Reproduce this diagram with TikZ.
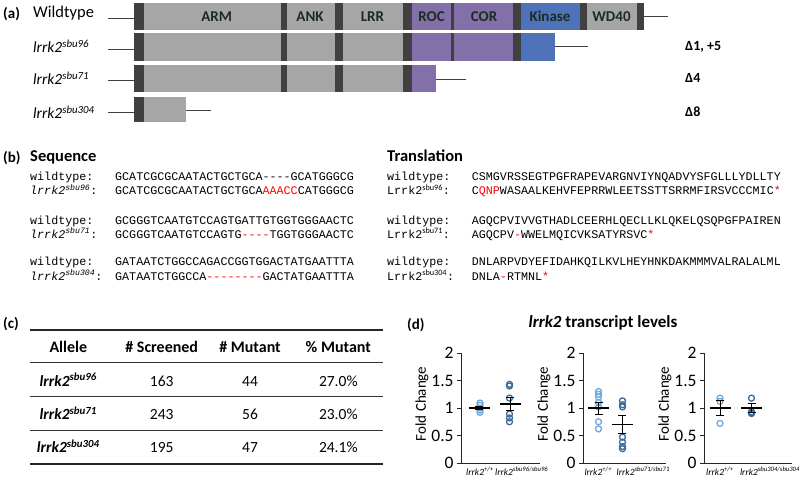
\documentclass[tikz,border=0pt]{standalone}
\usepackage{fontspec}
\setmainfont{Carlito}
\setsansfont{Carlito}
\setmonofont{Liberation Mono}
\usepackage{tikz}
\usetikzlibrary{positioning}

\definecolor{domgray}{HTML}{A6A6A6}
\definecolor{domdark}{HTML}{404040}
\definecolor{dompurple}{HTML}{8470A8}
\definecolor{domblue}{HTML}{4F72B8}
\definecolor{domtext}{HTML}{1A2D22}
\definecolor{lblue}{HTML}{6FA8DC}
\definecolor{dblue}{HTML}{3D6A99}

\newcommand{\fs}[1]{\fontsize{#1}{#1}\selectfont}
% mean line with sem bar: x, mean, low, high
\newcommand{\meanbar}[4]{%
  \draw[errbar] (#1,#3) -- (#1,#4) (#1-4,#3) -- (#1+4,#3) (#1-4,#4) -- (#1+4,#4);
  \draw[meanline] (#1-10.5,#2) -- (#1+10.5,#2);}

\begin{document}
\begin{tikzpicture}[x=1pt, y=-1pt,
   panel/.style={font=\fs{15}\bfseries, anchor=base west, inner sep=0},
   rowlbl/.style={font=\fs{15.5}, anchor=base west, inner sep=0},
   domlbl/.style={font=\fs{15}\bfseries, text=domtext, anchor=base, inner sep=0},
   dellbl/.style={font=\fs{14}\bfseries, anchor=base west, inner sep=0},
   stub/.style={draw=black!75, line width=1pt},
   seq/.style={font=\ttfamily\fs{11.7}, anchor=base west, inner sep=0},
   head/.style={font=\fs{16}\bfseries, anchor=base, inner sep=0},
   cell/.style={font=\fs{15.5}, anchor=base, inner sep=0},
   rulethick/.style={draw=black!85, line width=2pt},
   rulethin/.style={draw=black!80, line width=1.1pt},
   axisline/.style={draw=black!85, line width=0.9pt},
   ticklbl/.style={font=\fs{17.5}, inner sep=0},
   fclbl/.style={font=\fs{15}, rotate=90, inner sep=0},
   catlbl/.style={font=\fs{9.5}\itshape, anchor=base, inner sep=0},
   lcirc/.style={draw=lblue, line width=1.3pt},
   dcirc/.style={draw=dblue, line width=1.3pt},
   errbar/.style={draw=black, line width=0.9pt},
   meanline/.style={draw=black, line width=1.8pt}]
\useasboundingbox (0,0) rectangle (800,477);

% ---------- (a) domains
\node[panel] (pa) at (3,18) {(a)};
\node[rowlbl, font=\fs{16.5}] (rwt) at (33,17.5) {Wildtype};
\node[rowlbl] (r96) at (33,52.5) {\itshape lrrk2\textsuperscript{sbu96}};
\node[rowlbl] (r71) at (33,84.5) {\itshape lrrk2\textsuperscript{sbu71}};
\node[rowlbl] (r304) at (33,118.5) {\itshape lrrk2\textsuperscript{sbu304}};

% wildtype
\fill[domgray] (134,3) rectangle (644,30);
\fill[dompurple] (403,3) rectangle (513,30);
\fill[domblue] (513,3) rectangle (580,30);
\foreach \a/\b in {134/144, 281/287, 335/343, 403/412, 451/454, 513/521, 580/587, 637/644}
  \fill[domdark] (\a,3) rectangle (\b,30);
\draw[stub] (108,18.5) -- (134,18.5) (644,16) -- (668,16);
\foreach \x/\t/\nm in {216.7/ARM/arm, 310/ANK/ank, 372.5/LRR/lrr, 431.5/ROC/roc,
                       484/COR/cor, 550/Kinase/kin, 611.5/WD40/wd}
  \node[domlbl] (\nm) at (\x,21.5) {\t};

% sbu96
\fill[domgray] (134,32.5) rectangle (555,61);
\fill[dompurple] (403,32.5) rectangle (513,61);
\fill[domblue] (513,32.5) rectangle (555,61);
\foreach \a/\b in {134/144, 281/287, 335/343, 403/412, 451/454, 513/521}
  \fill[domdark] (\a,32.5) rectangle (\b,61);
\draw[stub] (108,49.5) -- (134,49.5) (555,46.7) -- (588,46.7);

% sbu71
\fill[domgray] (134,65) rectangle (436,91.5);
\fill[dompurple] (403,65) rectangle (436,91.5);
\foreach \a/\b in {134/144, 281/287, 335/343, 403/412}
  \fill[domdark] (\a,65) rectangle (\b,91.5);
\draw[stub] (108,80.5) -- (134,80.5) (436,79) -- (466,79);

% sbu304
\fill[domgray] (134,96.5) rectangle (186,121.5);
\fill[domdark] (134,96.5) rectangle (144,121.5);
\draw[stub] (108,112) -- (134,112) (186,110) -- (211,110);

\node[dellbl] (d96) at (685,50) {Δ1, +5};
\node[dellbl] (d71) at (685,82) {Δ4};
\node[dellbl] (d304) at (685,116) {Δ8};

% ---------- (b) sequences
\node[panel] (pb) at (3,162) {(b)};
\node[font=\fs{16.5}\bfseries, anchor=base west, inner sep=0] (hseq) at (30,161.7) {Sequence};
\node[font=\fs{16.5}\bfseries, anchor=base west, inner sep=0] (htr) at (387,161.7) {Translation};

\node[seq] (nwt1) at (30,180.6) {wildtype:};
\node[seq] (nmu1) at (30,194.6) {\textit{lrrk2}\textsuperscript{\textit{sbu96}}:};
\node[seq] (swt1) at (115,180.6) {GCATCGCGCAATACTGCTGCA----GCATGGGCG};
\node[seq] (smu1) at (115,194.6) {GCATCGCGCAATACTGCTGCA\textcolor{red}{AAACC}CATGGGCG};

\node[seq] (nwt2) at (30,224) {wildtype:};
\node[seq] (nmu2) at (30,238) {\textit{lrrk2}\textsuperscript{\textit{sbu71}}:};
\node[seq] (swt2) at (115,224) {GCGGGTCAATGTCCAGTGATTGTGGTGGGAACTC};
\node[seq] (smu2) at (115,238) {GCGGGTCAATGTCCAGTG\textcolor{red}{----}TGGTGGGAACTC};

\node[seq] (nwt3) at (30,265.6) {wildtype:};
\node[seq] (nmu3) at (30,280) {\textit{lrrk2}\textsuperscript{\textit{sbu304}}:};
\node[seq] (swt3) at (115,265.6) {GATAATCTGGCCAGACCGGTGGACTATGAATTTA};
\node[seq] (smu3) at (115,280) {GATAATCTGGCCA\textcolor{red}{--------}GACTATGAATTTA};

\node[seq] (twt1) at (387,180.6) {wildtype:};
\node[seq] (tmu1) at (387,194.6) {Lrrk2\textsuperscript{\sffamily sbu96}:};
\node[seq] (pwt1) at (471.7,180.6) {CSMGVRSSEGTPGFRAPEVARGNVIYNQADVYSFGLLLYDLLTY};
\node[seq] (pmu1) at (471.7,194.6) {C\textcolor{red}{QNP}WASAALKEHVFEPRRWLEETSSTTSRRMFIRSVCCCMIC\textcolor{red}{*}};

\node[seq] (twt2) at (387,224) {wildtype:};
\node[seq] (tmu2) at (387,238) {Lrrk2\textsuperscript{\sffamily sbu71}:};
\node[seq] (pwt2) at (471.7,224) {AGQCPVIVVGTHADLCEERHLQECLLKLQKELQSQPGFPAIREN};
\node[seq] (pmu2) at (471.7,238) {AGQCPV\textcolor{red}{-}WWELMQICVKSATYRSVC\textcolor{red}{*}};

\node[seq] (twt3) at (387,265.6) {wildtype:};
\node[seq] (tmu3) at (387,280) {Lrrk2\textsuperscript{\sffamily sbu304}:};
\node[seq] (pwt3) at (471.7,265.6) {DNLARPVDYEFIDAHKQILKVLHEYHNKDAKMMMVALRALALML};
\node[seq] (pmu3) at (471.7,280) {DNLA\textcolor{red}{-}RTMNL\textcolor{red}{*}};

% ---------- (c) table
\node[panel] (pc) at (3,328) {(c)};
\draw[rulethick] (30,329.5) -- (383,329.5);
\draw[rulethin] (30,362.3) -- (383,362.3);
\draw[rulethin] (30,396.7) -- (383,396.7);
\draw[rulethin] (30,430.7) -- (383,430.7);
\draw[rulethick] (30,464) -- (383,464);
\node[head] (hal) at (68.3,352.3) {Allele};
\node[head] (hsc) at (161.7,352.3) {\# Screened};
\node[head] (hmu) at (250,352.3) {\# Mutant};
\node[head] (hpc) at (338.3,352.3) {\% Mutant};
\foreach \y/\al/\n/\m/\p in {386/96/163/44/27.0, 419.3/71/243/56/23.0, 452.7/304/195/47/24.1} {
  \node[cell] (al\al) at (68.3,\y) {\bfseries\itshape lrrk2\textsuperscript{sbu\al}};
  \node[cell] (sc\al) at (161.7,\y) {\n};
  \node[cell] (mu\al) at (250,\y) {\m};
  \node[cell] (pc\al) at (338.3,\y) {\p\%};
}

% ---------- (d) plots
\node[panel] (pd) at (407,329) {(d)};
\node[font=\fs{17}\bfseries, anchor=base, inner sep=0] (title) at (603,327) {\itshape lrrk2\upshape{} transcript levels};

\begin{scope}[shift={(0,463)}, y=55pt]
\foreach \ax/\xe/\nm in {461/540/p1, 583/666/p2, 704/792/p3} {
  \draw[axisline] (\ax,2) -- (\ax,0) -- (\xe,0);
  \foreach \v in {0,0.5,1,1.5,2}
    \draw[axisline] (\ax-4,\v) -- (\ax,\v) node[ticklbl, left=7pt] {\v};
  \node[fclbl] (fc\nm) at (\ax-39,1.075) {Fold Change};
}
% plot 1
\foreach \v in {1.09,1.05,1.0,0.96,0.92} \draw[lcirc] (480,\v) circle[radius=3pt];
\foreach \v in {1.43,1.40,1.18,0.89,0.82,0.75} \draw[dcirc] (509.5,\v) circle[radius=3pt];
\meanbar{479}{1.0}{0.97}{1.03}
\meanbar{510}{1.07}{0.95}{1.19}
% plot 2
\foreach \v in {1.30,1.25,1.20,1.10,1.02,0.75,0.62} \draw[lcirc] (598.5,\v) circle[radius=3pt];
\foreach \v in {1.13,1.06,1.02,0.47,0.38,0.30,0.26} \draw[dcirc] (622.5,\v) circle[radius=3pt];
\meanbar{598.5}{1.0}{0.88}{1.11}
\meanbar{622}{0.70}{0.54}{0.87}
% plot 3
\foreach \v in {1.18,1.12,0.72} \draw[lcirc] (720,\v) circle[radius=3pt];
\foreach \v in {1.18,0.93,0.91,0.90} \draw[dcirc] (751.5,\v) circle[radius=3pt];
\meanbar{720}{1.0}{0.86}{1.14}
\meanbar{751.5}{1.0}{0.92}{1.09}
\end{scope}

\node[catlbl] (c1a) at (480,475) {lrrk2\textsuperscript{+/+}};
\node[catlbl] (c1b) at (521.7,475) {lrrk2\textsuperscript{sbu96/sbu96}};
\node[catlbl] (c2a) at (598.3,475) {lrrk2\textsuperscript{+/+}};
\node[catlbl] (c2b) at (643.3,475) {lrrk2\textsuperscript{sbu71/sbu71}};
\node[catlbl] (c3a) at (720,475) {lrrk2\textsuperscript{+/+}};
\node[catlbl] (c3b) at (770,475) {lrrk2\textsuperscript{sbu304/sbu304}};
\end{tikzpicture}
\end{document}
